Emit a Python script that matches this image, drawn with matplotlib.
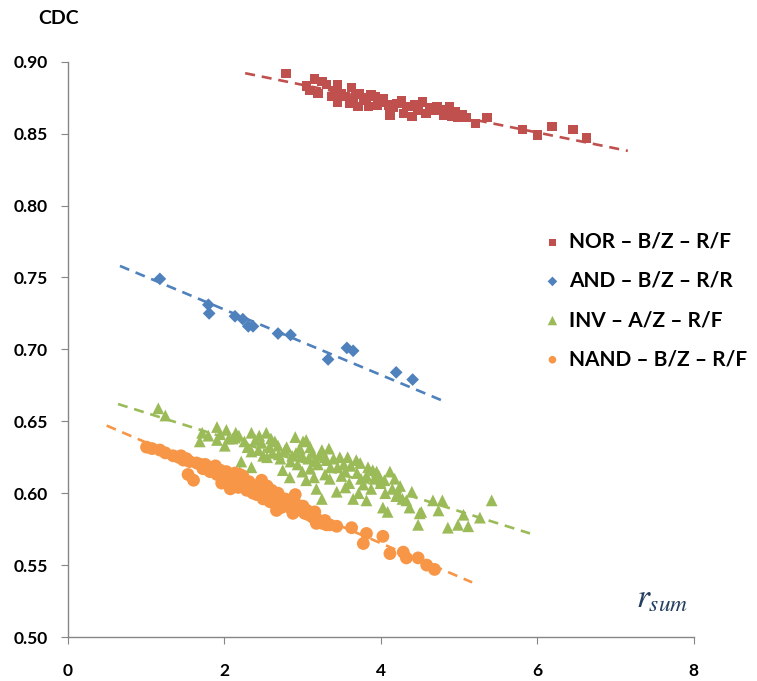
import numpy as np
import matplotlib
matplotlib.use('Agg')
import matplotlib.pyplot as plt

# datos (r_sum, CDC)
nor_x = [2.79, 3.05, 3.10, 3.16, 3.20, 3.25, 3.31, 3.38, 3.42, 3.45,
         3.45, 3.50, 3.55, 3.60, 3.63, 3.65, 3.68, 3.71, 3.73, 3.78,
         3.82, 3.85, 3.88, 3.93, 3.96, 3.99, 4.04, 4.10, 4.12, 4.16,
         4.21, 4.27, 4.29, 4.33, 4.37, 4.40, 4.44, 4.48, 4.54, 4.58,
         4.63, 4.68, 4.72, 4.76, 4.81, 4.85, 4.88, 4.91, 4.96, 4.99,
         5.05, 5.10, 5.21, 5.36, 5.81, 6.01, 6.19, 6.46, 6.63]
nor_y = [0.892, 0.883, 0.880, 0.888, 0.878, 0.886, 0.884, 0.876, 0.880, 0.884,
         0.872, 0.878, 0.876, 0.871, 0.882, 0.873, 0.877, 0.869, 0.878, 0.875,
         0.873, 0.869, 0.877, 0.876, 0.870, 0.872, 0.874, 0.870, 0.863, 0.868,
         0.871, 0.873, 0.864, 0.869, 0.869, 0.862, 0.870, 0.866, 0.872, 0.864,
         0.868, 0.866, 0.869, 0.866, 0.863, 0.867, 0.869, 0.862, 0.865, 0.861,
         0.863, 0.861, 0.857, 0.861, 0.853, 0.849, 0.855, 0.853, 0.847]

and_x = [1.18, 1.80, 1.81, 2.14, 2.24, 2.31, 2.37, 2.69, 2.85, 3.33,
         3.57, 3.65, 4.20, 4.41]
and_y = [0.749, 0.731, 0.725, 0.723, 0.721, 0.716, 0.716, 0.711, 0.710, 0.693,
         0.701, 0.699, 0.684, 0.679]

inv_x = [1.16, 1.25, 1.69, 1.72, 1.80, 1.91, 1.91, 1.95, 2.01, 2.03,
         2.06, 2.11, 2.15, 2.19, 2.20, 2.22, 2.26, 2.30, 2.35, 2.35,
         2.35, 2.40, 2.44, 2.48, 2.50, 2.54, 2.58, 2.62, 2.65, 2.69,
         2.72, 2.75, 2.78, 2.80, 2.84, 2.87, 2.91, 2.94, 2.97, 3.01,
         3.05, 3.05, 3.08, 3.10, 3.10, 3.13, 3.18, 3.20, 3.22, 3.25,
         3.29, 3.29, 3.31, 3.34, 3.36, 3.40, 3.44, 3.48, 3.50, 3.53,
         3.58, 3.60, 3.65, 3.69, 3.70, 3.74, 3.78, 3.82, 3.82, 3.84,
         3.88, 3.92, 3.95, 4.00, 4.03, 4.06, 4.09, 4.12, 4.15, 4.20,
         4.25, 4.28, 4.33, 4.37, 4.40, 4.48, 4.50, 4.52, 4.67, 4.74,
         4.79, 4.86, 4.99, 5.06, 5.12, 5.27, 5.42, 2.45, 2.60, 2.70,
         2.85, 2.92, 3.00, 3.15, 3.25, 3.35, 3.45, 3.55, 3.62, 3.75,
         3.90, 3.98, 4.05, 4.18, 4.22, 3.72, 3.55, 3.00, 2.55, 3.15]
inv_y = [0.659, 0.654, 0.636, 0.642, 0.640, 0.646, 0.637, 0.641, 0.633, 0.644,
         0.638, 0.638, 0.642, 0.640, 0.615, 0.622, 0.636, 0.632, 0.642, 0.629,
         0.618, 0.637, 0.630, 0.635, 0.626, 0.642, 0.632, 0.628, 0.636, 0.633,
         0.624, 0.616, 0.630, 0.632, 0.611, 0.626, 0.639, 0.620, 0.631, 0.636,
         0.637, 0.609, 0.624, 0.632, 0.617, 0.628, 0.603, 0.620, 0.626, 0.596,
         0.625, 0.613, 0.623, 0.631, 0.618, 0.624, 0.601, 0.625, 0.612, 0.620,
         0.625, 0.607, 0.596, 0.623, 0.614, 0.621, 0.606, 0.595, 0.612, 0.618,
         0.603, 0.610, 0.615, 0.607, 0.590, 0.600, 0.587, 0.615, 0.603, 0.598,
         0.605, 0.596, 0.595, 0.590, 0.601, 0.578, 0.586, 0.587, 0.595, 0.588,
         0.595, 0.576, 0.578, 0.585, 0.577, 0.583, 0.595, 0.640, 0.638, 0.627,
         0.622, 0.628, 0.615, 0.622, 0.630, 0.610, 0.618, 0.615, 0.619, 0.610,
         0.616, 0.612, 0.609, 0.610, 0.600, 0.600, 0.604, 0.626, 0.625, 0.611]

nand_x = [1.01, 1.08, 1.18, 1.25, 1.42, 1.48, 1.52, 1.56, 1.54, 1.61,
          1.65, 1.70, 1.76, 1.80, 1.82, 1.86, 1.91, 1.95, 1.99, 2.03,
          2.05, 2.08, 2.12, 2.16, 2.20, 2.22, 2.26, 2.29, 2.32, 2.37,
          2.40, 2.44, 2.48, 2.50, 2.53, 2.57, 2.61, 2.64, 2.67, 2.71,
          2.75, 2.80, 2.84, 2.88, 2.91, 2.95, 2.99, 3.03, 3.08, 3.12,
          3.14, 3.18, 3.22, 3.26, 3.29, 3.31, 3.44, 3.63, 3.78, 3.82,
          4.03, 4.12, 4.29, 4.33, 4.48, 4.59, 4.69, 1.73, 1.89, 1.97,
          2.10, 2.18, 2.24, 2.35, 2.42, 2.46, 2.55, 2.59, 2.69, 2.73,
          2.78, 2.86, 2.93, 3.01, 3.06, 3.16, 3.35, 1.35, 1.45, 2.14]
nand_y = [0.632, 0.631, 0.630, 0.628, 0.625, 0.623, 0.624, 0.622, 0.613, 0.609,
          0.621, 0.620, 0.620, 0.618, 0.615, 0.617, 0.613, 0.616, 0.610, 0.615,
          0.612, 0.603, 0.611, 0.608, 0.613, 0.609, 0.606, 0.602, 0.608, 0.600,
          0.605, 0.603, 0.609, 0.596, 0.602, 0.599, 0.602, 0.596, 0.588, 0.597,
          0.594, 0.592, 0.590, 0.586, 0.599, 0.589, 0.588, 0.586, 0.585, 0.584,
          0.583, 0.579, 0.581, 0.579, 0.581, 0.578, 0.577, 0.576, 0.565, 0.572,
          0.570, 0.558, 0.559, 0.555, 0.555, 0.550, 0.547, 0.617, 0.619, 0.607,
          0.606, 0.604, 0.612, 0.604, 0.599, 0.601, 0.605, 0.594, 0.600, 0.590,
          0.596, 0.593, 0.592, 0.591, 0.588, 0.587, 0.578, 0.626, 0.626, 0.614]

# lineas de tendencia (extremos)
nor_trend_x = [2.27, 7.16]
nor_trend_y = [0.892, 0.838]
and_trend_x = [0.67, 4.85]
and_trend_y = [0.758, 0.663]
inv_trend_x = [0.645, 5.91]
inv_trend_y = [0.662, 0.572]
nand_trend_x = [0.50, 5.17]
nand_trend_y = [0.647, 0.538]

etiquetas = ['NOR – B/Z – R/F', 'AND – B/Z – R/R',
             'INV – A/Z – R/F', 'NAND – B/Z – R/F']
colores = ['#C0504D', '#4F81BD', '#9BBB59', '#F79646']
marcadores = ['s', 'D', '^', 'o']
tamanos = [45, 42, 72, 85]
tamanos_leyenda = [26, 24, 46, 30]

xticks = [0, 2, 4, 6, 8]
yticks = [0.50, 0.55, 0.60, 0.65, 0.70, 0.75, 0.80, 0.85, 0.90]

plt.rcParams['font.family'] = ['Lato', 'DejaVu Sans']

fig = plt.figure(figsize=(7.57, 6.81), dpi=100)
ax = fig.add_axes([0.0892, 0.0646, 0.8270, 0.8448])

series = [(nor_x, nor_y, nor_trend_x, nor_trend_y),
          (and_x, and_y, and_trend_x, and_trend_y),
          (inv_x, inv_y, inv_trend_x, inv_trend_y),
          (nand_x, nand_y, nand_trend_x, nand_trend_y)]

for (sx, sy, tx, ty), lab, col, mk, s in zip(series, etiquetas, colores,
                                              marcadores, tamanos):
    ax.scatter(sx, sy, s=s, marker=mk, color=col, edgecolors='none',
               label=lab, zorder=3)
    ax.plot(tx, ty, color=col, lw=1.9, dashes=(3.8, 2.6), zorder=2)

ax.set_xlim(0, 8)
ax.set_ylim(0.50, 0.90)
ax.set_xticks(xticks)
ax.set_yticks(yticks)
ax.set_xticklabels([str(v) for v in xticks])
ax.set_yticklabels([f'{v:.2f}' for v in yticks])
for lbl in ax.get_xticklabels() + ax.get_yticklabels():
    lbl.set_fontweight('bold')
    lbl.set_fontsize(12.5)
ax.tick_params(axis='y', direction='out', length=5, color='#868686', pad=9)
ax.tick_params(axis='x', direction='out', length=5, color='#868686', pad=14)

for lado in ['top', 'right']:
    ax.spines[lado].set_visible(False)
for lado in ['left', 'bottom']:
    ax.spines[lado].set_color('#868686')
    ax.spines[lado].set_linewidth(1.0)

fig.text(0.077, 0.973, 'CDC', fontsize=14, fontweight='bold',
         ha='center', va='center')
ax.text(7.93, 0.5262, r'$r_{sum}$', fontsize=24, color='#243F60',
        ha='right', va='center', math_fontfamily='stix')

leg = ax.legend(loc='upper left', bbox_to_anchor=(0.705, 0.672),
                bbox_transform=fig.transFigure, frameon=False,
                fontsize=15, handletextpad=0.3,
                labelspacing=0.92, handlelength=1.0, borderaxespad=0)
for h, tl in zip(leg.legend_handles, tamanos_leyenda):
    h.set_sizes([tl])
for t in leg.get_texts():
    t.set_fontweight('bold')

fig.savefig('out.png', dpi=100)
plt.close(fig)
